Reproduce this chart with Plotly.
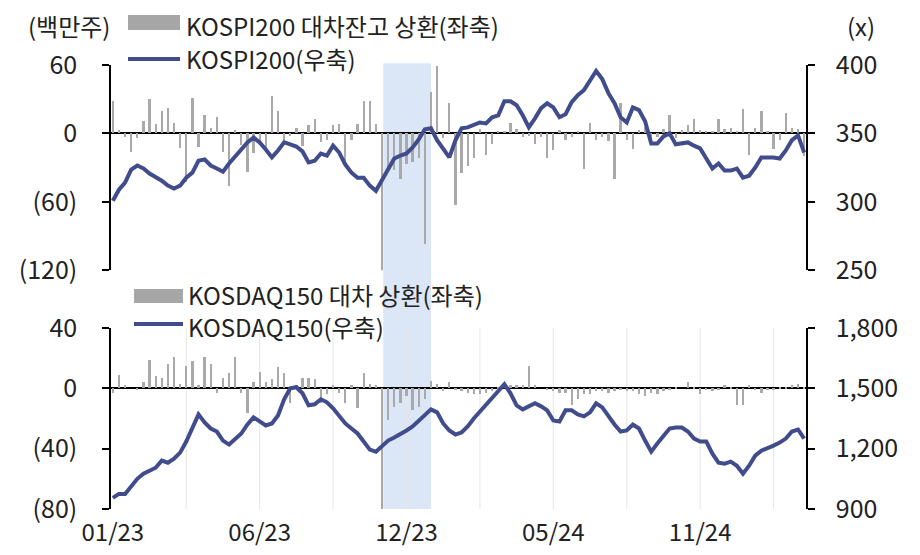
import plotly.graph_objects as go
from plotly.subplots import make_subplots

# weekly index (Jan 2023 - Feb 2025)
weeks = list(range(114))
x_tick_vals = [0, 24, 48, 72, 96]
x_tick_text = ["01/23", "06/23", "12/23", "05/24", "11/24"]
x_grid_vals = [12, 24, 36, 48, 60, 72, 84, 96, 108]

kospi_repay = [28, 3, -3, -16, -4, 11, 30, 8, 20, 22, 9, -13, -43, 31, -12, 16, 5, 14, -16, -46,
               3, -10, -34, -17, -7, -13, 33, 20, -8, -2, 5, -11, 7, 13, -8, -6, 7, 8, -24, -6,
               8, 28, 28, 8, -122, -33, -32, -40, -27, -25, -22, -97, 36, 59, -4, 27, -63, -35, -29, -22,
               4, -19, -9, 2, 2, 9, 4, -3, -2, -9, -3, -22, -15, 3, -6, -3, 2, -31, 9, -6,
               -3, -7, -40, 27, -6, -14, 3, 6, -4, -3, 4, 16, -4, 3, 7, 13, 3, 2, 2, 13,
               4, 5, 2, 21, -19, 5, 20, 2, -14, -6, 18, 5, 4, -20]

kospi200 = [300.7, 308.8, 314, 323.5, 326.5, 324.3, 320.6, 318.4, 315.4, 311.8, 309.6, 311.8, 317.6, 321.3,
            330, 331, 326.5, 324.3, 322, 328, 333, 337.5, 343.4, 347, 343.4, 338.2, 332.4, 337.5,
            343.4, 342, 340.4, 336.8, 328.7, 330, 335.3, 333.8, 341, 336, 327.2, 321.3, 317.6, 317.6,
            311.8, 308, 315.4, 322.8, 331.6, 333.8, 335.3, 339.7, 345.6, 353, 353.7, 345, 339, 332.4,
            345, 353.7, 354.4, 356, 358, 357.3, 361.8, 363.2, 373.5, 373.5, 370.6, 363.2, 354.4, 361,
            368.4, 372, 369, 361.8, 364, 372.8, 378, 381.6, 389, 395.6, 389.7, 379.4, 372, 361.8,
            358, 369, 367, 358.8, 342.6, 342.6, 347.8, 350, 342, 342.6, 343.4, 341, 339, 331.6,
            324.3, 328, 322.8, 322.8, 324.3, 317.6, 319, 325, 332.4, 332.4, 332.4, 331.6, 337.5, 345,
            348.5, 336]

kosdaq_repay = [-3, 9, 2, 0, -1, 4, 19, 8, 7, 16, 21, 3, 15, 18, 2, 21, 16, -3, 7, 10,
                21, -3, -16, 4, 11, 4, 6, 14, 10, -10, 2, 7, 7, 6, -10, -4, 2, -3, -10, 2,
                -13, 10, 3, 2, -82, -21, -12, -10, -5, -14, -12, -7, 5, 3, -2, 4, -1, -2, -3, -4,
                -4, -3, -2, 1, 2, 2, 2, 2, 15, 2, 0, -1, -2, -3, -3, -11, -7, -4, -4, -2,
                -2, -3, -2, -1, -2, -2, -4, -5, -3, -4, -2, -1, 1, 0, 4, 1, -4, -1, -2, -1,
                2, 1, -11, -11, 2, -1, -3, -1, -1, 1, 1, 2, 3, 1]

kosdaq150 = [955, 975, 975, 1010, 1050, 1075, 1090, 1105, 1140, 1130, 1150, 1180, 1235, 1305, 1370,
             1330, 1300, 1285, 1240, 1220, 1250, 1275, 1320, 1355, 1335, 1315, 1325, 1365, 1445, 1500,
             1505, 1475, 1415, 1420, 1445, 1430, 1400, 1365, 1325, 1300, 1275, 1235, 1195, 1185, 1215,
             1240, 1255, 1270, 1290, 1310, 1340, 1370, 1395, 1380, 1325, 1290, 1270, 1280, 1310, 1350,
             1385, 1420, 1450, 1485, 1520, 1475, 1415, 1395, 1410, 1425, 1410, 1390, 1340, 1335, 1390,
             1390, 1370, 1360, 1380, 1425, 1405, 1360, 1320, 1285, 1290, 1320, 1300, 1240, 1185, 1225,
             1265, 1300, 1305, 1305, 1285, 1250, 1235, 1235, 1175, 1130, 1125, 1135, 1115, 1075, 1115,
             1165, 1190, 1200, 1215, 1230, 1250, 1285, 1295, 1250]

ban_start, ban_end = 44.2, 52.0

top_left_vals = [60, 0, -60, -120]
top_left_text = ["60", "0", "(60)", "(120)"]
top_right_vals = [250, 300, 350, 400]
bot_left_vals = [40, 0, -40, -80]
bot_left_text = ["40", "0", "(40)", "(80)"]
bot_right_vals = [900, 1200, 1500, 1800]
bot_right_text = ["900", "1,200", "1,500", "1,800"]

FONT = "Noto Sans CJK KR"
BAR_C = "#a9a9a9"
LINE_C = "#404c8c"
FS = 25
LFS = 24

fig = make_subplots(rows=2, cols=1, specs=[[{"secondary_y": True}], [{"secondary_y": True}]],
                    vertical_spacing=0.13)

fig.add_trace(go.Bar(x=weeks, y=kospi_repay, marker_color=BAR_C, marker_line_width=0, width=0.38,
                     name="KOSPI200 대차잔고 상환(좌축)"), row=1, col=1, secondary_y=False)
fig.add_trace(go.Scatter(x=weeks, y=kospi200, mode="lines", line=dict(color=LINE_C, width=4),
                         name="KOSPI200(우축)"), row=1, col=1, secondary_y=True)
fig.add_trace(go.Bar(x=weeks, y=kosdaq_repay, marker_color=BAR_C, marker_line_width=0, width=0.38,
                     name="KOSDAQ150 대차 상환(좌축)"), row=2, col=1, secondary_y=False)
fig.add_trace(go.Scatter(x=weeks, y=kosdaq150, mode="lines", line=dict(color=LINE_C, width=4),
                         name="KOSDAQ150(우축)"), row=2, col=1, secondary_y=True)

TOP_DOM = [0.538, 1.0]
BOT_DOM = [0.0, 0.408]

axis_common = dict(showline=True, linecolor="black", linewidth=1.5, ticks="outside", ticklen=7,
                   tickcolor="black", tickwidth=1.5, showgrid=False,
                   tickfont=dict(family=FONT, size=FS, color="#222"))

# page body has an 8px margin, so the figure is sized 16px smaller than the window
fig.update_layout(
    width=904, height=539, plot_bgcolor="white", paper_bgcolor="white",
    margin=dict(l=103, r=106, t=57, b=38, autoexpand=False), showlegend=False, bargap=0,
    font=dict(family=FONT, size=FS, color="#222"),
    xaxis=dict(range=[-0.3, 113.3], showticklabels=False, showline=False, ticks="", showgrid=False,
               zeroline=False, domain=[0, 1]),
    xaxis2=dict(range=[-0.3, 113.3], tickvals=x_tick_vals, ticktext=x_tick_text, showline=False,
                ticks="", showgrid=False, zeroline=False,
                tickfont=dict(family=FONT, size=24, color="#222"), ticklabelstandoff=7, domain=[0, 1]),
    yaxis=dict(domain=TOP_DOM, range=[-120, 60], tickvals=top_left_vals, ticktext=top_left_text,
               zeroline=True, zerolinecolor="black", zerolinewidth=1.5, ticklabelstandoff=20,
               **axis_common),
    yaxis2=dict(range=[250, 400], tickvals=top_right_vals, zeroline=False, ticklabelstandoff=16,
                **axis_common),
    yaxis3=dict(domain=BOT_DOM, range=[-80, 40], tickvals=bot_left_vals, ticktext=bot_left_text,
                zeroline=True, zerolinecolor="black", zerolinewidth=1.5, ticklabelstandoff=20,
                **axis_common),
    yaxis4=dict(range=[900, 1800], tickvals=bot_right_vals, ticktext=bot_right_text, zeroline=False,
                ticklabelstandoff=16, **axis_common),
)

# faint vertical gridlines in the lower panel
for gx in x_grid_vals:
    fig.add_shape(type="line", xref="x2", yref="y3", x0=gx, x1=gx, y0=-80, y1=40,
                  line=dict(color="#e6e6e6", width=1), layer="below")

# shaded period (short-selling ban)
fig.add_shape(type="rect", xref="x", yref="paper", x0=ban_start, x1=ban_end, y0=0, y1=1.004,
              fillcolor="#dbe6f6", line_width=0, layer="below")


# helpers: reference-picture pixels -> paper coordinates (plot area 111..806 x 65..509)
def paper_x(px):
    return (px - 111) / 695.0


def paper_y(py):
    return (509 - py) / 444.0


shapes_leg = [
    dict(type="rect", x0=paper_x(128), x1=paper_x(180), y0=paper_y(30), y1=paper_y(15),
         fillcolor="#a6a6a6", line_width=0),
    dict(type="line", x0=paper_x(128), x1=paper_x(180), y0=paper_y(59), y1=paper_y(59),
         line=dict(color=LINE_C, width=4)),
    dict(type="rect", x0=paper_x(134), x1=paper_x(183), y0=paper_y(303), y1=paper_y(289),
         fillcolor="#a6a6a6", line_width=0),
    dict(type="line", x0=paper_x(134), x1=paper_x(183), y0=paper_y(324), y1=paper_y(324),
         line=dict(color=LINE_C, width=4)),
]
for s in shapes_leg:
    fig.add_shape(xref="paper", yref="paper", **s)

annots = [
    ("(백만주)", 69, 26, "center"),
    ("KOSPI200 대차잔고 상환(좌축)", 184, 25, "left"),
    ("KOSPI200(우축)", 184, 58, "left"),
    ("(x)", 861, 26, "center"),
    ("KOSDAQ150 대차 상환(좌축)", 186, 294, "left"),
    ("KOSDAQ150(우축)", 186, 326, "left"),
]
for txt, px, py, al in annots:
    fig.add_annotation(text=txt, xref="paper", yref="paper", x=paper_x(px), y=paper_y(py),
                       xanchor=al, yanchor="middle", showarrow=False,
                       font=dict(family=FONT, size=LFS, color="#222"))

fig.write_html("out.html")
